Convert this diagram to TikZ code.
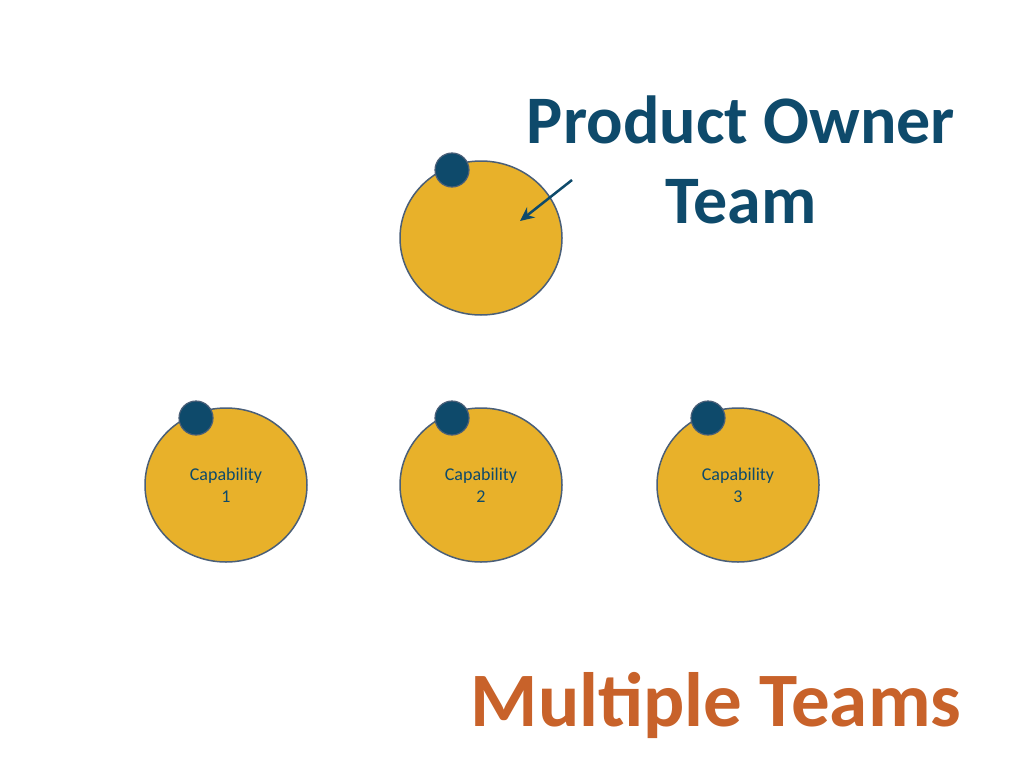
\documentclass[tikz,border=0pt]{standalone}
\usepackage{fontspec}
\setmainfont{Carlito}
\usetikzlibrary{positioning, shapes.geometric, arrows.meta}
\definecolor{teamgold}{HTML}{E8B12A}
\definecolor{teamedge}{HTML}{4A5F78}
\definecolor{ownerblue}{HTML}{0E4A6B}
\definecolor{titleorange}{HTML}{C8622A}
\begin{document}
\begin{tikzpicture}[x=1pt, y=-1pt,
    team/.style={ellipse, draw=teamedge, line width=1.5pt, fill=teamgold, minimum width=162pt, minimum height=154pt, inner sep=0pt, text=ownerblue, align=center, font=\fontsize{18}{22}\selectfont},
    lead/.style={circle, draw=teamedge, line width=1.2pt, fill=ownerblue, minimum size=34pt, inner sep=0pt},
    arrow/.style={ownerblue, line width=2.5pt, -{Stealth[length=14pt,width=13pt]}}]
    \useasboundingbox[fill=white] (0,0) rectangle (1024,768);

    \node[team] (owner) at (481,238) {};
    \node[lead] (ownerlead) at (452,170) {};

    \node[team] (cap1) at (226,485) {Capability\\1};
    \node[team] (cap2) at (481,485) {Capability\\2};
    \node[team] (cap3) at (738,485) {Capability\\3};
    \node[lead] (lead1) at (196,418) {};
    \node[lead] (lead2) at (452,418) {};
    \node[lead] (lead3) at (708,418) {};

    \node[text=ownerblue, font=\fontsize{68}{80}\selectfont\bfseries, align=center] (label) at (741,160) {Product Owner\\Team};
    \node[text=titleorange, font=\fontsize{77}{90}\selectfont\bfseries] (title) at (716,705) {Multiple Teams};

    \coordinate (tail) at (572,180);
    \coordinate (tip) at (520,221);
    \draw[arrow] (tail) -- (tip);
\end{tikzpicture}
\end{document}
